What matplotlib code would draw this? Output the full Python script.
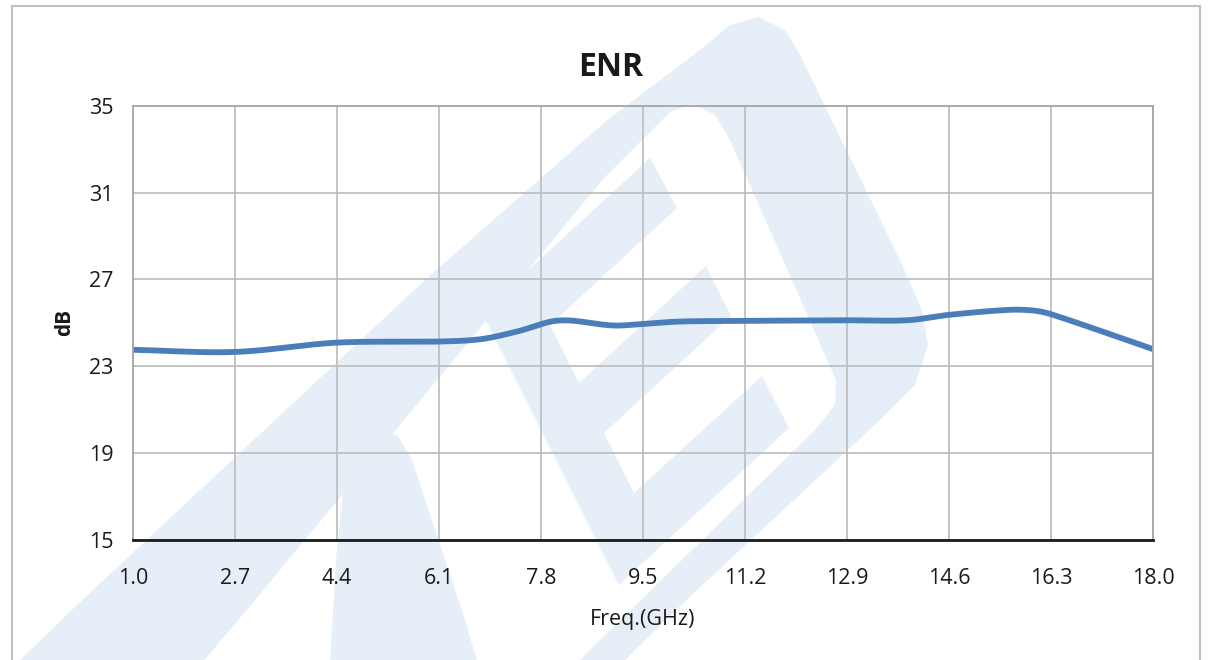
import numpy as np
import matplotlib.pyplot as plt
from matplotlib.patches import Rectangle, Polygon

# readings of the ENR curve (GHz, dB)
freq = [1.0, 2.7, 4.4, 6.1, 6.8, 7.4, 8.1, 9.0, 9.5, 10.1, 11.2, 12.9, 13.9, 14.6, 15.6, 16.0, 16.3, 18.0]
enr = [23.76, 23.66, 24.09, 24.14, 24.25, 24.6, 25.11, 24.88, 24.95, 25.06, 25.09, 25.12, 25.12, 25.37, 25.60, 25.57, 25.40, 23.79]

xticks = [1.0, 2.7, 4.4, 6.1, 7.8, 9.5, 11.2, 12.9, 14.6, 16.3, 18.0]
yticks = [15, 19, 23, 27, 31, 35]

# faint logo watermark behind the chart, in pixel coordinates of the page
wm_outer = [(15, 665), (77, 605), (425, 280), (605, 122), (700, 50), (730, 25), (758, 17), (785, 30),
            (800, 55), (900, 260), (922, 310), (928, 345), (915, 385), (880, 420), (681, 605), (620, 665)]
wm_inner = [(200, 665), (251, 605), (604, 178), (670, 112), (693, 104), (715, 115), (730, 140),
            (836, 380), (835, 405), (815, 430), (600, 640), (575, 665)]
wm_letter = [(482, 313), (524, 274), (650, 158), (677, 208), (550, 325), (579, 383), (706, 266),
             (731, 316), (604, 433), (634, 493), (762, 376), (789, 428), (661, 546), (619, 585)]
wm_hump = [(330, 665), (336, 560), (345, 475), (358, 442), (378, 428), (398, 436), (412, 460),
           (465, 620), (478, 665)]

W, H = 1209, 660


def smooth(x, y, n=40):
    # cubic Hermite through the readings with Catmull-Rom style slopes
    x = np.asarray(x, float)
    y = np.asarray(y, float)
    m = np.zeros_like(y)
    m[1:-1] = (y[2:] - y[:-2]) / (x[2:] - x[:-2])
    m[0] = (y[1] - y[0]) / (x[1] - x[0])
    m[-1] = (y[-1] - y[-2]) / (x[-1] - x[-2])
    xs, ys = [], []
    t = np.linspace(0, 1, n, endpoint=False)
    for i in range(len(x) - 1):
        h = x[i + 1] - x[i]
        h00 = 2 * t ** 3 - 3 * t ** 2 + 1
        h10 = t ** 3 - 2 * t ** 2 + t
        h01 = -2 * t ** 3 + 3 * t ** 2
        h11 = t ** 3 - t ** 2
        xs.extend(x[i] + h * t)
        ys.extend(h00 * y[i] + h10 * h * m[i] + h01 * y[i + 1] + h11 * h * m[i + 1])
    xs.append(x[-1])
    ys.append(y[-1])
    return xs, ys


def px(points):
    return [(a / W, 1 - b / H) for a, b in points]


plt.rcParams['font.family'] = ['Open Sans', 'DejaVu Sans']

fig = plt.figure(figsize=(W / 100, H / 100), dpi=100)

for pts, col in ((wm_outer, '#e6eef7'), (wm_inner, '#ffffff'), (wm_letter, '#e6eef7'), (wm_hump, '#e6eef7')):
    fig.patches.append(Polygon(px(pts), closed=True, transform=fig.transFigure,
                               facecolor=col, edgecolor='none', zorder=-2))

fig.patches.append(Rectangle((12 / W, -0.05), 1188 / W, 1.05 - 6 / H, transform=fig.transFigure,
                             fill=False, edgecolor='#bfbfbf', linewidth=1.5, zorder=-1))

ax = fig.add_axes([0.110, 0.182, 0.8437, 0.6576])
ax.set_zorder(1)
ax.patch.set_alpha(0)

sx, sy = smooth(freq, enr)
ax.plot(sx, sy, color='#4a7ebb', linewidth=4.2, solid_capstyle='butt')

ax.set_xlim(1.0, 18.0)
ax.set_ylim(15, 35)
ax.set_xticks(xticks)
ax.set_xticklabels([f"{v:.1f}" for v in xticks])
ax.set_yticks(yticks)
ax.tick_params(length=0, labelsize=15.5, colors='#1a1a1a')
ax.tick_params(axis='x', pad=20)
ax.tick_params(axis='y', pad=14)
ax.grid(True, color='#bfbfbf', linewidth=1.3)
ax.set_axisbelow(True)
for s in ('left', 'right', 'top'):
    ax.spines[s].set_color('#a6a6a6')
    ax.spines[s].set_linewidth(1.3)
ax.spines['bottom'].set_color('#1a1a1a')
ax.spines['bottom'].set_linewidth(2)

fig.text(611 / W, 1 - 67 / H, 'ENR', fontsize=23, fontweight='bold', color='#1a1a1a',
         ha='center', va='center', zorder=2)
ax.set_xlabel('Freq.(GHz)', fontsize=15.5, labelpad=15, color='#1a1a1a')
ax.set_ylabel('dB', fontsize=15, fontweight='bold', labelpad=10, color='#1a1a1a')

fig.savefig('out.png', dpi=100)
